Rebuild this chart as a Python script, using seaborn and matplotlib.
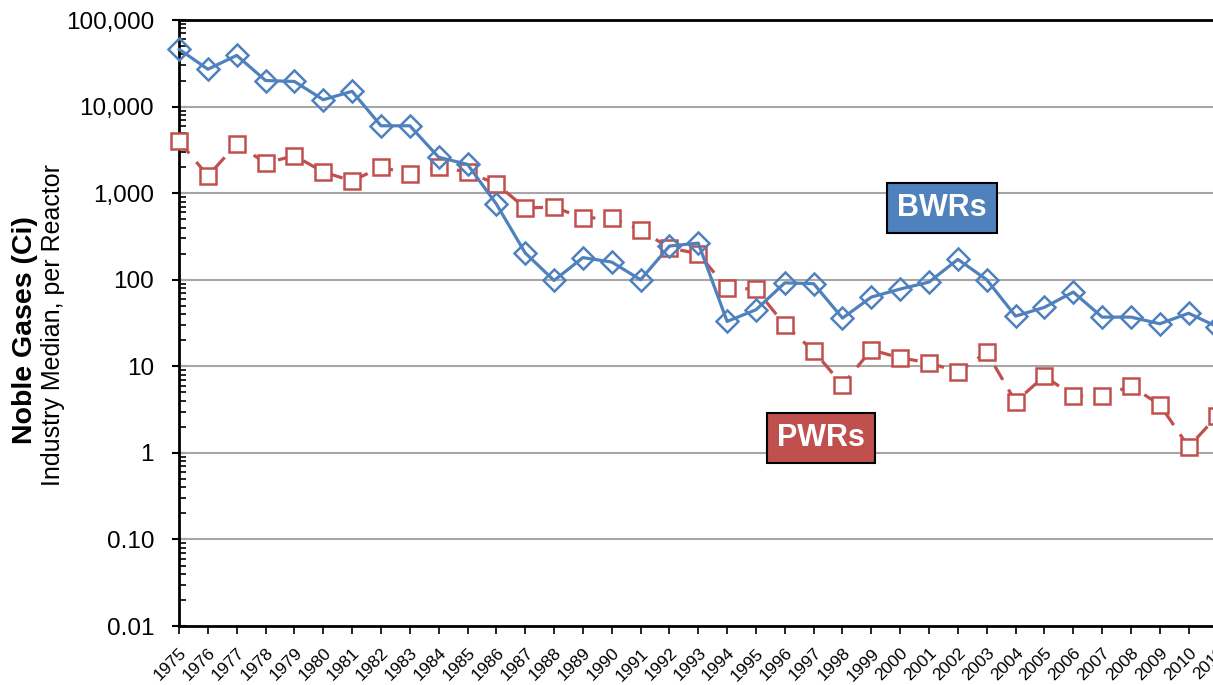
import numpy as np
import pandas as pd
import matplotlib
matplotlib.use("Agg")
import matplotlib.pyplot as plt
import seaborn as sns
from matplotlib.ticker import LogLocator, NullFormatter

# ---------------------- DATOS ----------------------
years = list(range(1975, 2012))
bwr = [46000, 27000, 39000, 20000, 19500, 12000, 15000, 6000, 6000, 2600,
       2150, 750, 204, 98, 180, 160, 100, 245, 265, 33,
       45, 92, 90, 36, 63, 78, 94, 172, 100, 38,
       48, 72, 37, 37, 31, 41, 28.5]
pwr = [4000, 1580, 3700, 2230, 2700, 1760, 1380, 2000, 1660, 2000,
       1760, 1280, 675, 690, 517, 517, 376, 233, 200, 80,
       78, 30, 15, 6.1, 15.5, 12.5, 11, 8.6, 14.5, 3.9,
       7.7, 4.55, 4.5, 5.9, 3.6, 1.17, 2.7]
ytick_vals = [0.01, 0.1, 1, 10, 100, 1000, 10000, 100000]
ytick_labels = ["0.01", "0.10", "1", "10", "100", "1,000", "10,000", "100,000"]
# ---------------------------------------------------

df = pd.DataFrame({"year": years, "BWRs": bwr, "PWRs": pwr})

sns.set_style("white")
plt.rcParams["font.family"] = ["Liberation Sans", "DejaVu Sans"]
plt.rcParams["text.color"] = "black"
plt.rcParams["xtick.color"] = "black"
plt.rcParams["ytick.color"] = "black"

blue = "#4F81BD"
red = "#C0504D"

fig = plt.figure(figsize=(12.13, 6.85), dpi=100)
ax = fig.add_axes([0.1476, 0.0861, 0.868, 0.8847])

# PWRs: línea discontinua con cuadrados
sns.lineplot(data=df, x="year", y="PWRs", ax=ax, color=red, lw=2.3,
             marker="s", markersize=11.5, markerfacecolor="white",
             markeredgecolor=red, markeredgewidth=1.8, zorder=3, clip_on=False)
ax.lines[-1].set_dashes((5, 3.5))
# BWRs: línea continua con rombos
sns.lineplot(data=df, x="year", y="BWRs", ax=ax, color=blue, lw=2.3,
             marker="D", markersize=11, markerfacecolor="none",
             markeredgecolor=blue, markeredgewidth=1.8, zorder=4, clip_on=False)

ax.set_yscale("log")
ax.set_ylim(0.01, 100000)
ax.set_xlim(1975, 2011.5)
ax.set_yticks(ytick_vals)
ax.set_yticklabels(ytick_labels, fontsize=17.5)
ax.yaxis.set_minor_locator(LogLocator(base=10, subs=np.arange(2, 10), numticks=20))
ax.yaxis.set_minor_formatter(NullFormatter())
ax.tick_params(axis="y", which="major", direction="inout", length=10, width=1.5, left=True, pad=13)
ax.tick_params(axis="y", which="minor", direction="in", length=5, width=1.2, left=True)

ax.set_xticks(years)
ax.set_xticklabels([str(y) for y in years], rotation=45, ha="right",
                   rotation_mode="anchor", fontsize=12.5)
ax.tick_params(axis="x", which="major", direction="out", length=6, width=1.2, bottom=True, pad=8)

for v in ytick_vals[1:]:
    ax.axhline(v, color="#A6A6A6", lw=1.5, zorder=1)

for s in ["left", "bottom", "top"]:
    ax.spines[s].set_color("black")
    ax.spines[s].set_linewidth(2)
ax.spines["right"].set_visible(False)

ax.set_xlabel("")
ax.set_ylabel("")
fig.text(0.0206, 0.518, "Noble Gases (Ci)", rotation=90, fontsize=20.5, fontweight="bold",
         ha="center", va="center")
fig.text(0.0437, 0.526, "Industry Median, per Reactor", rotation=90, fontsize=18,
         ha="center", va="center")

ax.text(2001.45, 676, "BWRs", fontsize=22, fontweight="bold", color="white",
        ha="center", va="center", zorder=6,
        bbox=dict(boxstyle="square,pad=0.32", facecolor=blue, edgecolor="black", lw=1.5))
ax.text(1997.25, 1.49, "PWRs", fontsize=22, fontweight="bold", color="white",
        ha="center", va="center", zorder=6,
        bbox=dict(boxstyle="square,pad=0.32", facecolor=red, edgecolor="black", lw=1.5))

plt.savefig("out.png", dpi=100)
plt.close()
